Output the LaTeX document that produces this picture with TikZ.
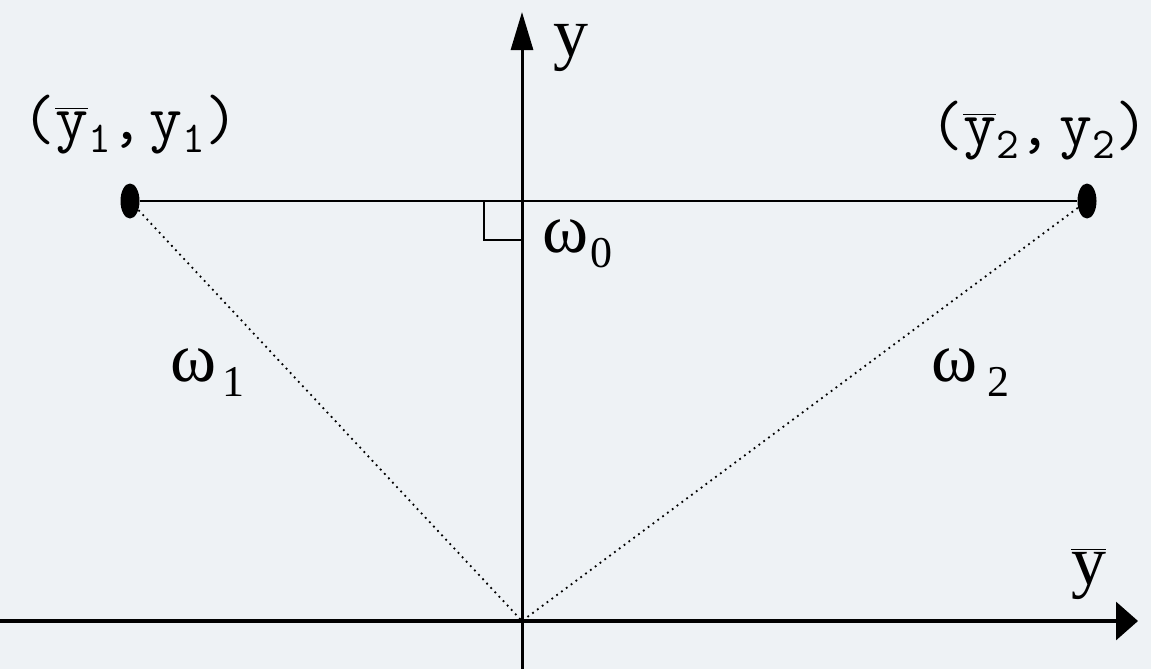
\documentclass[tikz,border=0pt]{standalone}
\usepackage{fontspec}
\setmainfont{Liberation Serif}
\usetikzlibrary{shapes.geometric,arrows.meta}
\definecolor{bgcol}{RGB}{238,242,245}
\tikzset{
  axisv/.style={line width=1.5pt,-{Triangle[length=19,width=11]}},
  axish/.style={line width=1.6pt,-{Triangle[length=11,width=19]}},
  thinline/.style={line width=1pt},
  dotline/.style={line width=0.9pt,dash pattern=on 0.9pt off 2.1pt},
  pointdot/.style={ellipse,fill=black,draw=none,minimum width=9.5pt,minimum height=17.5pt,inner sep=0pt},
  serlabel/.style={font=\fontsize{35}{35}\selectfont,inner sep=0pt},
  omlabel/.style={font=\fontsize{35}{35}\selectfont,inner sep=0pt},
  monolabel/.style={font=\ttfamily\fontsize{32}{32}\selectfont,inner sep=0pt}
}
\newcommand{\subsc}[1]{{\fontsize{22}{22}\selectfont\raisebox{-0.35em}{#1}}}
\newcommand{\monosub}[1]{{\fontsize{22}{22}\selectfont\raisebox{-0.3em}{#1}}}
\begin{document}
\begin{tikzpicture}[x=0.5pt,y=-0.5pt]
\useasboundingbox (0,0) rectangle (1151,669);
\fill[bgcol] (0,0) rectangle (1151,669);
% axes
\coordinate (xl) at (0,621);
\coordinate (xr) at (1138,621);
\coordinate (yb) at (522,669);
\coordinate (yt) at (522,12);
\coordinate (o) at (522,621);
\draw[axish] (xl) -- (xr);
\draw[axisv] (yb) -- (yt);
% points
\node[pointdot] (p1) at (130,201) {};
\node[pointdot] (p2) at (1087,201) {};
\draw[thinline] (p1) -- (p2);
\draw[dotline] (p1) -- (o);
\draw[dotline] (p2) -- (o);
% right angle mark
\coordinate (r1) at (484,201);
\coordinate (r2) at (484,240);
\coordinate (r3) at (522,240);
\draw[thinline] (r1) -- (r2) -- (r3);
% labels
\node[serlabel,anchor=base west] (ly) at (553,56) {y};
\node[serlabel,anchor=base west] (lyb) at (1071,584) {$\overline{\hbox{y}}$};
\node[omlabel,anchor=base west] (lw0) at (542,252) {ω\kern1pt\subsc{0}};
\node[omlabel,anchor=base west] (lw1) at (170,381) {ω\kern3pt\subsc{1}};
\node[omlabel,anchor=base west] (lw2) at (931,381) {ω\kern5pt\subsc{2}};
\node[monolabel,anchor=base west] (lp1) at (22,139) {($\overline{\hbox{y}}$\monosub{1},\kern3pt y\monosub{1})};
\node[monolabel,anchor=base west] (lp2) at (930,145) {($\overline{\hbox{y}}$\monosub{2},\kern4pt y\monosub{2})};
\end{tikzpicture}
\end{document}
